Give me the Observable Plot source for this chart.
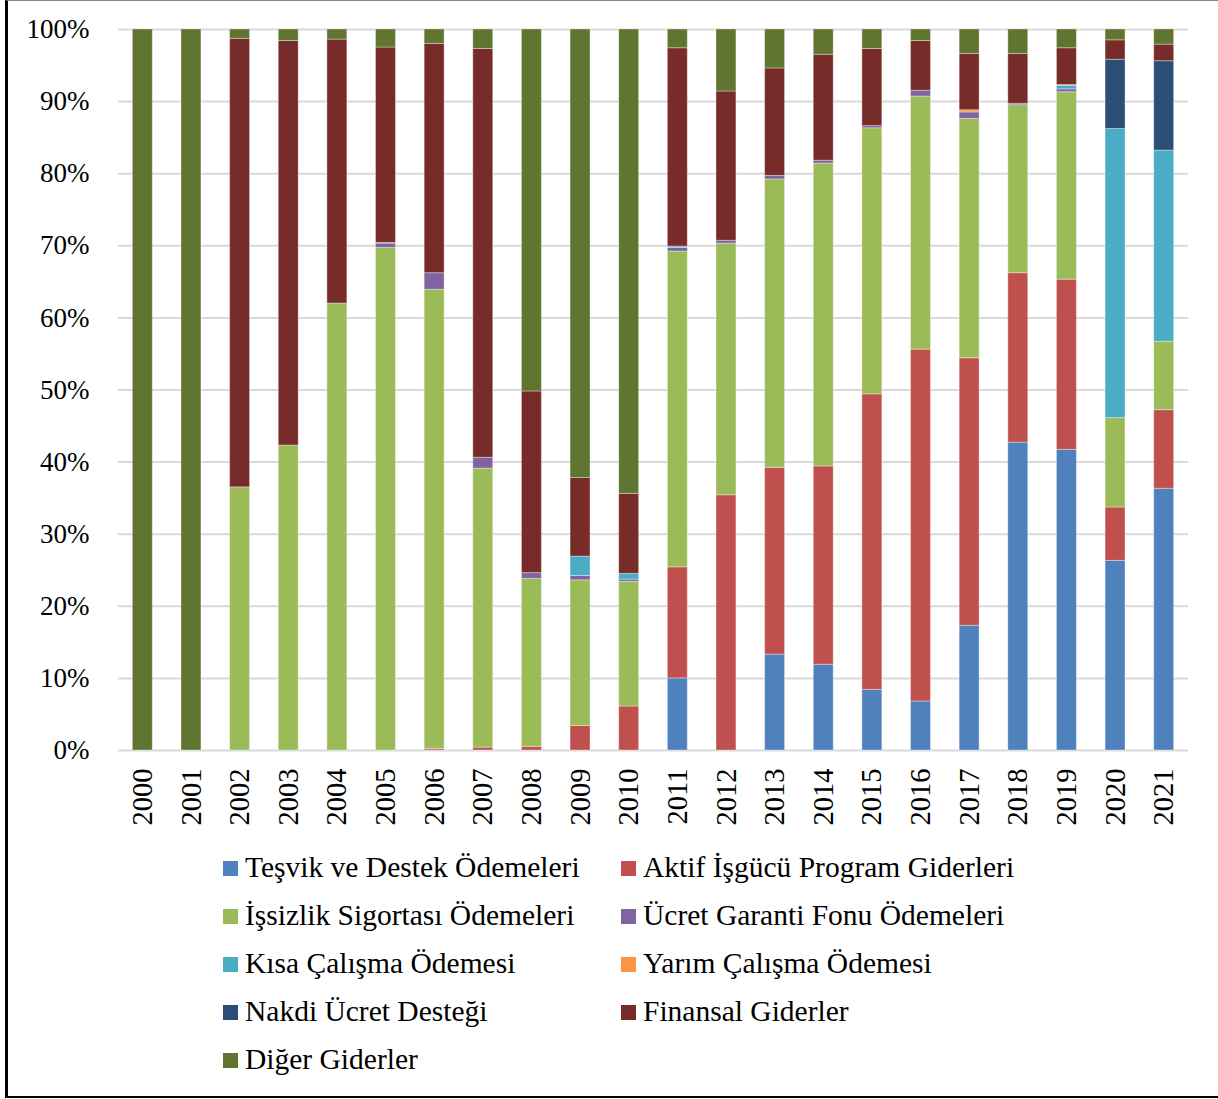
<!DOCTYPE html>
<html>
<head>
<meta charset="utf-8">
<script src="https://cdn.jsdelivr.net/npm/d3@7"></script>
<script src="https://cdn.jsdelivr.net/npm/@observablehq/plot@0.6"></script>
<style>
  html, body { margin: 0; padding: 0; background: #fff; }
  #wrap { position: relative; width: 1218px; height: 1099px; font-family: "Liberation Serif", "Times New Roman", serif; overflow: hidden; }
  #frame { position: absolute; left: 5px; top: 0; width: 1210px; height: 1095px; border-left: 3px solid #000; border-right: 2px solid #000; border-bottom: 2px solid #000; border-top: 1px solid #888; box-sizing: content-box; pointer-events: none; }
  #chart { position: absolute; left: 0; top: 0; }
  #chart svg, #chart svg text { font-family: "Liberation Serif", "Times New Roman", serif !important; }
  #legend { position: absolute; left: 0; top: 0; width: 1218px; }
  .li { position: absolute; display: flex; align-items: center; font-size: 29.5px; color: #000; white-space: nowrap; line-height: 1; }
  .sw { width: 15px; height: 15px; margin-right: 7px; flex: none; }
</style>
</head>
<body>
<div id="wrap">
  <div id="chart"></div>
  <div id="legend"></div>
  <div id="frame"></div>
</div>
<script>
const years = ["2000","2001","2002","2003","2004","2005","2006","2007","2008","2009","2010","2011","2012","2013","2014","2015","2016","2017","2018","2019","2020","2021"];

const seriesNames = [
  "Teşvik ve Destek Ödemeleri",
  "Aktif İşgücü Program Giderleri",
  "İşsizlik Sigortası Ödemeleri",
  "Ücret Garanti Fonu Ödemeleri",
  "Kısa Çalışma Ödemesi",
  "Yarım Çalışma Ödemesi",
  "Nakdi Ücret Desteği",
  "Finansal Giderler",
  "Diğer Giderler"
];
const seriesColors = ["#4F81BD","#C0504D","#9BBB59","#8064A2","#4BACC6","#F79646","#2C4D75","#772C2A","#5F7530"];

// shares (%) per year, 2000..2021
const tesvik    = [0,0,0,0,0,0,0,0,0,0,0,10.0,0,13.3,11.9,8.4,6.8,17.3,42.7,41.7,26.3,36.3];
const aktif     = [0,0,0,0,0,0,0.2,0.4,0.5,3.4,6.1,15.4,35.4,25.9,27.5,41.0,48.8,37.1,23.5,23.6,7.4,10.9];
const issizlik  = [0,0,36.5,42.3,62.0,69.7,63.7,38.7,23.3,20.2,17.3,43.8,34.9,40.0,42.0,36.9,35.1,33.2,23.3,26.0,12.4,9.5];
const ucretGar  = [0,0,0,0,0,0.6,2.3,1.5,0.8,0.6,0.3,0.5,0.4,0.5,0.4,0.3,0.8,0.9,0.2,0.4,0,0];
const kisa      = [0,0,0,0,0,0.1,0,0,0,2.7,0.8,0.2,0,0,0,0,0,0,0,0.5,40.1,26.5];
const yarim     = [0,0,0,0,0,0,0,0,0,0,0,0,0,0,0,0,0,0.3,0,0.1,0,0];
const nakdi     = [0,0,0,0,0,0,0,0,0,0,0,0,0,0,0,0,0,0,0,0,9.6,12.4];
const finansal  = [0,0,62.2,56.1,36.6,27.1,31.8,56.7,25.2,10.9,11.1,27.5,20.7,14.9,14.7,10.7,6.9,7.8,6.9,5.1,2.7,2.3];
const diger     = [100,100,1.3,1.6,1.4,2.5,2.0,2.7,50.2,62.2,64.4,2.6,8.6,5.4,3.5,2.7,1.6,3.4,3.4,2.6,1.5,2.1];

const yTicks = [0,0.1,0.2,0.3,0.4,0.5,0.6,0.7,0.8,0.9,1.0];

const seriesValues = [tesvik, aktif, issizlik, ucretGar, kisa, yarim, nakdi, finansal, diger];
const data = [];
seriesValues.forEach((vals, si) => {
  vals.forEach((v, yi) => data.push({year: years[yi], series: seriesNames[si], value: v}));
});

const serif = "Liberation Serif, Times New Roman, serif";

const chart = Plot.plot({
  width: 1218,
  height: 840,
  marginTop: 29,
  marginBottom: 90,
  marginLeft: 118,
  marginRight: 30,
  style: {fontFamily: serif, fontSize: "27px", color: "#000", background: "transparent"},
  x: {domain: years, paddingInner: 0.59, paddingOuter: 0.295, round: false, label: null},
  y: {domain: [0, 1], label: null},
  color: {domain: seriesNames, range: seriesColors},
  marks: [
    Plot.gridY(yTicks, {stroke: "#d9d9d9", strokeOpacity: 1, strokeWidth: 2}),
    Plot.barY(data, Plot.stackY({
      x: "year", y: "value", fill: "series", z: "series",
      order: seriesNames, offset: "normalize",
      stroke: "#ffffff", strokeOpacity: 0.35, strokeWidth: 1
    })),
    Plot.axisY(yTicks, {tickFormat: d => Math.round(d * 100) + "%", tickSize: 0, tickPadding: 29, fontSize: 27, fontFamily: serif}),
    Plot.axisX({tickRotate: -90, tickSize: 0, tickPadding: 18, fontSize: 28.5, fontFamily: serif})
  ]
});
document.getElementById("chart").appendChild(chart);

// legend (two columns, row order left-right)
const legend = document.getElementById("legend");
const colX = [223, 621];
const rowY0 = 868, rowStep = 48;
seriesNames.forEach((name, i) => {
  const col = i % 2, row = Math.floor(i / 2);
  const item = document.createElement("div");
  item.className = "li";
  item.style.left = colX[col] + "px";
  item.style.top = (rowY0 + row * rowStep - 16) + "px";
  item.style.height = "32px";
  const sw = document.createElement("span");
  sw.className = "sw";
  sw.style.background = seriesColors[i];
  const tx = document.createElement("span");
  tx.textContent = name;
  item.appendChild(sw);
  item.appendChild(tx);
  legend.appendChild(item);
});
</script>
</body>
</html>
